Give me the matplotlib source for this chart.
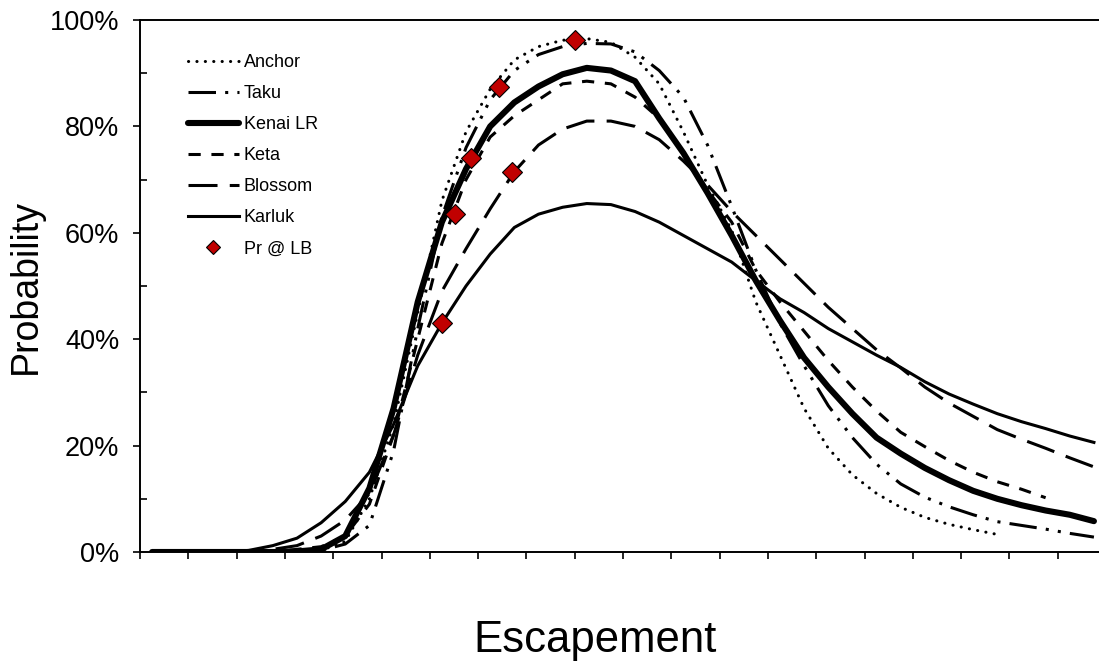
import numpy as np
import matplotlib
matplotlib.use("Agg")
import matplotlib.pyplot as plt
from matplotlib.ticker import MultipleLocator, PercentFormatter

plt.rcParams["font.family"] = ["Liberation Sans", "DejaVu Sans"]

# escapement, in axis tick units (no labels on the original axis)
escapement = np.arange(0.25, 20.0, 0.5)
nan = np.nan

anchor = [0, 0, 0, 0, 0, 0, 0, 0.3, 2, 10, 24, 45, 66, 79, 87, 92.5, 95, 96.2, 96.5, 95.8,
          93, 88, 79, 69, 60.5, 47, 37, 27, 19.5, 14.5, 11, 8.4, 6.5, 5.2, 4.2, 3.3, nan, nan, nan, nan]
taku = [0, 0, 0, 0, 0, 0, 0, 0.3, 1.5, 5, 19, 42, 63, 76, 85, 90.5, 93.5, 95, 95.6, 95.5,
        94, 90.5, 85.5, 76.5, 65, 53, 43, 35, 27.5, 21.5, 16.5, 12.8, 10.3, 8.5, 7, 5.7, 5, 4.3, 3.5, 2.8]
kenai = [0, 0, 0, 0, 0, 0, 0.1, 0.5, 3, 12, 27, 47, 62, 72, 80, 84.5, 87.5, 89.8, 91, 90.5,
         88.5, 81.5, 75, 67.5, 59.5, 51, 43.5, 36.5, 31, 26, 21.5, 18.5, 15.8, 13.5, 11.5, 10, 8.8, 7.8, 7, 5.8]
keta = [0, 0, 0, 0, 0, 0, 0.5, 1, 3, 9, 22, 40, 58, 70, 78, 82, 85, 88, 88.5, 88,
        85.5, 81.5, 75, 68, 62, 53, 47, 41.5, 36, 31, 26.5, 22.5, 19.8, 17.2, 15, 13.2, 11.8, 10.2, nan, nan]
blossom = [0, 0, 0, 0, 0, 0.5, 1.2, 3, 6, 11, 22, 37, 49, 57, 64.5, 71.5, 76.5, 79.5, 81, 81,
           80, 77.5, 73.5, 69, 64, 59.5, 55, 50.5, 46, 42, 38, 34.6, 31, 28, 25.5, 23, 21.2, 19.5, 17.7, 16]
karluk = [0, 0, 0, 0, 0.3, 1.2, 2.6, 5.5, 9.5, 15, 24, 35, 43, 50, 56, 61, 63.5, 64.8, 65.5, 65.3,
          64, 62, 59.5, 57, 54.5, 51, 47.6, 45, 42, 39.5, 37, 34.7, 32, 29.7, 27.8, 26, 24.5, 23.2, 21.8, 20.6]

# probability at lower bound goal
lb_x = [9.0, 7.43, 6.85, 6.52, 7.70, 6.25]
lb_pr = [96.2, 87.4, 74, 63.5, 71.5, 43]

fig = plt.figure(figsize=(10.99, 6.61), dpi=100)
ax = fig.add_axes([140 / 1099., 1 - 552 / 661., 966 / 1099., 532 / 661.])

lw = 2.2
ax.plot(escapement, anchor, color="black", lw=lw, linestyle=(0, (0.05, 2.7)),
        dash_capstyle="round", label="Anchor")
ax.plot(escapement, taku, color="black", lw=lw, linestyle=(0, (9, 3, 1, 3, 1, 3)), label="Taku")
ax.plot(escapement, kenai, color="black", lw=4.4, solid_capstyle="round", label="Kenai LR")
ax.plot(escapement, keta, color="black", lw=lw, linestyle=(0, (4, 3.5)), label="Keta")
ax.plot(escapement, blossom, color="black", lw=lw, linestyle=(0, (9.5, 4)), label="Blossom")
ax.plot(escapement, karluk, color="black", lw=lw, label="Karluk")
ax.plot(lb_x, lb_pr, linestyle="none", marker="D", markersize=10,
        markerfacecolor="#c00000", markeredgecolor="black", markeredgewidth=0.8, label="Pr @ LB", zorder=5)

ax.set_xlim(0, 20)
ax.set_ylim(0, 100)
ax.xaxis.set_major_locator(MultipleLocator(1))
ax.yaxis.set_major_locator(MultipleLocator(20))
ax.yaxis.set_minor_locator(MultipleLocator(10))
ax.yaxis.set_major_formatter(PercentFormatter(decimals=0))
ax.set_xticklabels([])
ax.tick_params(axis="x", direction="out", length=5, width=1.2)
ax.tick_params(axis="y", which="major", direction="out", length=5, width=1.2, labelsize=19.5, pad=10)
ax.tick_params(axis="y", which="minor", direction="in", length=5, width=1.2)
for s in ["left", "bottom", "top"]:
    ax.spines[s].set_linewidth(1.4)
ax.spines["right"].set_visible(False)

ax.set_ylabel("Probability", fontsize=27, labelpad=4)
fig.text(595.5 / 1099., 1 - 652 / 661., "Escapement", fontsize=31.5, ha="center", va="baseline")

leg = ax.legend(loc="upper left", bbox_to_anchor=(188 / 1099., 1 - 54 / 661.),
                bbox_transform=fig.transFigure, frameon=False, fontsize=13,
                handlelength=2.8, handletextpad=0.3, labelspacing=0.78, borderpad=0, borderaxespad=0,
                markerscale=0.75)

plt.savefig("out.png", dpi=100)
